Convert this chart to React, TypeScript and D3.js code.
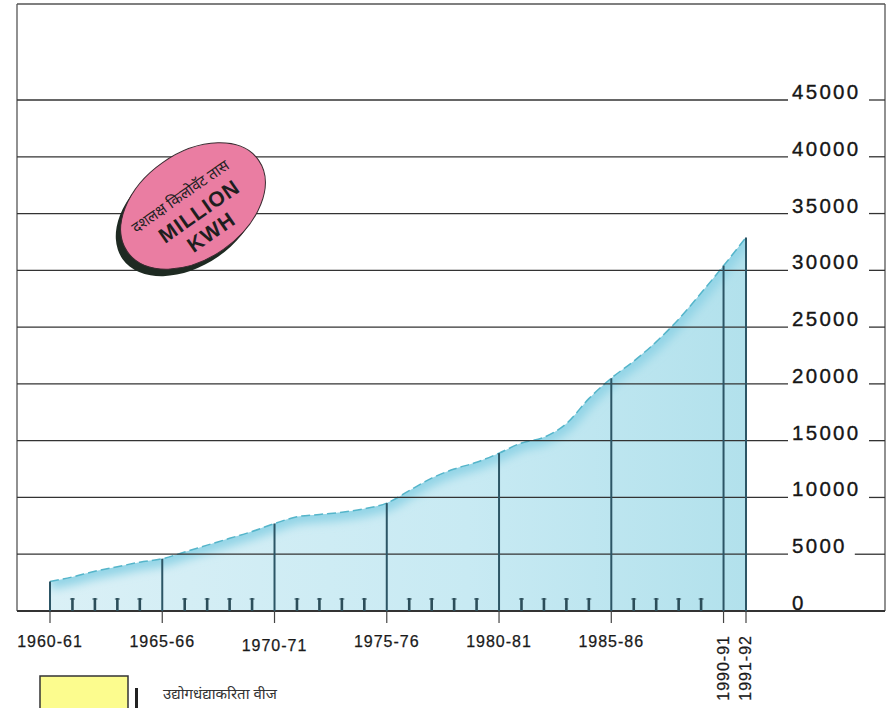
import React from 'react';
import * as d3 from 'd3';

// fiscal years (start year) and consumption in million kWh
const years = [
  1960, 1961, 1962, 1963, 1964, 1965, 1966, 1967, 1968, 1969,
  1970, 1971, 1972, 1973, 1974, 1975, 1976, 1977, 1978, 1979,
  1980, 1981, 1982, 1983, 1984, 1985, 1986, 1987, 1988, 1989,
  1990, 1991,
];
const consumption = [
  2600, 3000, 3500, 3900, 4300, 4600, 5200, 5800, 6400, 7000,
  7700, 8300, 8500, 8700, 9000, 9500, 10600, 11700, 12500, 13100,
  13900, 14800, 15300, 16500, 18700, 20500, 22000, 23700, 25700, 28000,
  30400, 32900,
];
const majorYears = [1960, 1965, 1970, 1975, 1980, 1985, 1990, 1991];
const majorLabels = ['1960-61', '1965-66', '1970-71', '1975-76', '1980-81', '1985-86', '1990-91', '1991-92'];
const yTicks = [0, 5000, 10000, 15000, 20000, 25000, 30000, 35000, 40000, 45000];

const badgeMarathi = 'दशलक्ष किलोवॅट तास';
const badgeLines = ['MILLION', 'KWH'];
const legendLabel = 'उद्योगधंद्याकरिता वीज';

const W = 895;
const H = 708;
const frameLeft = 17;
const frameRight = 885;
const frameTop = 4;

const App: React.FC = () => {
  const x = d3.scaleLinear().domain([1960, 1991]).range([50, 746]);
  const y = d3.scaleLinear().domain([0, 45000]).range([611, 100]);

  const pts = years.map((yr, i) => ({ yr, v: consumption[i] }));
  const area = d3.area<{ yr: number; v: number }>()
    .x(d => x(d.yr))
    .y0(y(0))
    .y1(d => y(d.v))
    .curve(d3.curveMonotoneX);
  const line = d3.line<{ yr: number; v: number }>()
    .x(d => x(d.yr))
    .y(d => y(d.v))
    .curve(d3.curveMonotoneX);

  const valueAt = (yr: number) => consumption[years.indexOf(yr)];
  const minorYears = years.filter(yr => !majorYears.includes(yr));
  const base = y(0);
  const labelFont = '"Liberation Sans", Arial, sans-serif';

  return (
    <svg width={W} height={H} style={{ position: 'fixed', left: 0, top: 0, background: '#fff' }}>
      <defs>
        <linearGradient id="fillGrad" x1="0" x2="1" y1="0" y2="0">
          <stop offset="0%" stopColor="#daf0f6" />
          <stop offset="60%" stopColor="#c8eaf3" />
          <stop offset="100%" stopColor="#b2e1ec" />
        </linearGradient>
        <clipPath id="areaClip">
          <path d={area(pts) || ''} />
        </clipPath>
        <filter id="soft" x="-10%" y="-10%" width="120%" height="120%">
          <feGaussianBlur stdDeviation="5" />
        </filter>
      </defs>

      {/* frame */}
      <g stroke="#555" strokeWidth={1.3} fill="none">
        <line x1={frameLeft} x2={frameRight} y1={frameTop} y2={frameTop} />
        <line x1={frameLeft} x2={frameLeft} y1={frameTop} y2={base} />
        <line x1={frameRight} x2={frameRight} y1={frameTop} y2={base} />
      </g>

      {/* area */}
      <path d={area(pts) || ''} fill="url(#fillGrad)" />
      <g clipPath="url(#areaClip)">
        <path d={line(pts) || ''} fill="none" stroke="#92d4e6" strokeWidth={16} filter="url(#soft)" />
      </g>
      <path d={line(pts) || ''} fill="none" stroke="#55b5ca" strokeWidth={1.5} strokeDasharray="9 4" />

      {/* horizontal grid lines + right labels */}
      {yTicks.filter(t => t > 0).map(t => {
        const label = String(t);
        const segStart = 792 + label.length * 14.2 + 6;
        return (
          <g key={t}>
            <line x1={frameLeft} x2={788} y1={y(t)} y2={y(t)} stroke="#333" strokeWidth={1.3} />
            <line x1={segStart} x2={frameRight} y1={y(t)} y2={y(t)} stroke="#333" strokeWidth={1.3} />
          </g>
        );
      })}
      {yTicks.map(t => (
        <text key={t} x={792} y={y(t) - 1} fontFamily={labelFont} fontSize={20.5}
          letterSpacing={2.3} fill="#161616" stroke="#161616" strokeWidth={0.35}>{t}</text>
      ))}

      {/* baseline */}
      <line x1={frameLeft} x2={frameRight} y1={base} y2={base} stroke="#333" strokeWidth={2} />

      {/* major year verticals */}
      {majorYears.map(yr => (
        <g key={yr}>
          <line x1={x(yr)} x2={x(yr)} y1={y(valueAt(yr))} y2={base} stroke="#2c5565" strokeWidth={2} />
          <line x1={x(yr)} x2={x(yr)} y1={base} y2={base + 12} stroke="#444" strokeWidth={1.2} />
        </g>
      ))}

      {/* minor year ticks */}
      {minorYears.map(yr => (
        <g key={yr} stroke="#2c4e5a">
          <line x1={x(yr)} x2={x(yr)} y1={base - 13} y2={base} strokeWidth={2.6} />
          <line x1={x(yr) - 2.5} x2={x(yr) + 2.5} y1={base - 12} y2={base - 12} strokeWidth={1} />
        </g>
      ))}

      {/* x labels */}
      {majorYears.map((yr, i) => {
        if (yr >= 1990) {
          return (
            <text key={yr} transform={`translate(${x(yr) + 5},${base + 24}) rotate(-90)`}
              textAnchor="end" fontFamily={labelFont} fontSize={16} letterSpacing={1} fill="#1a1a1a"
              stroke="#1a1a1a" strokeWidth={0.25}>
              {majorLabels[i]}
            </text>
          );
        }
        return (
          <text key={yr} x={x(yr)} y={yr === 1970 ? 651 : 647} textAnchor="middle"
            fontFamily={labelFont} fontSize={16} letterSpacing={1} fill="#1a1a1a"
            stroke="#1a1a1a" strokeWidth={0.25}>
            {majorLabels[i]}
          </text>
        );
      })}

      {/* badge */}
      <ellipse cx={0} cy={0} rx={80} ry={53} fill="#1e2a22"
        transform="translate(188,213) rotate(-35)" />
      <g transform="translate(193,206) rotate(-35)">
        <ellipse cx={0} cy={0} rx={80} ry={53} fill="#ea7da2" stroke="#3a2a30" strokeWidth={1} />
        <text x={-5} y={-10} textAnchor="middle" fontFamily='"Noto Sans", sans-serif'
          fontSize={15} fill="#222">{badgeMarathi}</text>
        {badgeLines.map((t, i) => (
          <text key={t} x={i === 0 ? 2 : 0} y={15 + i * 24} textAnchor="middle" fontFamily={labelFont}
            fontWeight="bold" fontSize={21} letterSpacing={1} fill="#1e1e1e">{t}</text>
        ))}
      </g>

      {/* legend */}
      <rect x={40} y={676} width={88} height={44} fill="#fcfc8e" stroke="#333" strokeWidth={1.5} />
      <rect x={135} y={688} width={3} height={22} fill="#222" />
      <text x={163} y={699} fontFamily='"Noto Sans", sans-serif' fontSize={15} fill="#333">{legendLabel}</text>
    </svg>
  );
};

export default App;
